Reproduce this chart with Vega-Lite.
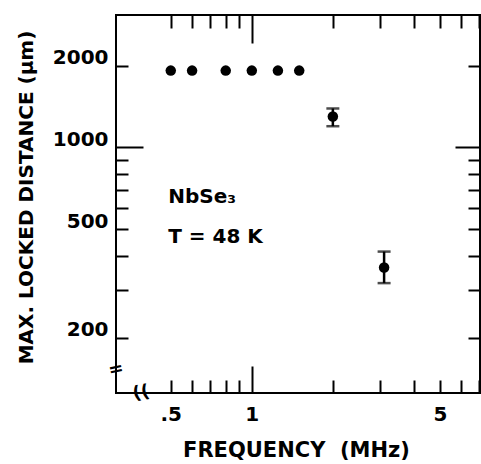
{
  "$schema": "https://vega.github.io/schema/vega-lite/v6.json",
  "autosize": "none",
  "width": 364,
  "height": 378,
  "padding": {"left": 116, "top": 15, "right": 1, "bottom": 71},
  "background": "white",
  "config": {
    "view": {"stroke": "black", "strokeWidth": 2},
    "axis": {"domain": false, "grid": false, "tickColor": "black", "tickWidth": 2, "labelColor": "black", "titleColor": "black", "labelFont": "DejaVu Sans", "titleFont": "DejaVu Sans", "labelFontWeight": "bold", "titleFontWeight": "bold"}
  },
  "datasets": {
    "pts": [
      {"f": 0.5, "d": 1917},
      {"f": 0.6, "d": 1917},
      {"f": 0.8, "d": 1917},
      {"f": 1.0, "d": 1917},
      {"f": 1.25, "d": 1917},
      {"f": 1.5, "d": 1917},
      {"f": 2.0, "d": 1300},
      {"f": 3.1, "d": 362}
    ],
    "err": [
      {"f": 2.0, "lo": 1197, "hi": 1391},
      {"f": 3.1, "lo": 317, "hi": 414}
    ],
    "notes": [
      {"f": 0.489, "d": 659, "label": "NbSe₃"},
      {"f": 0.489, "d": 470, "label": "T = 48 K"}
    ],
    "breaks": [
      {"f": 0.313, "d": 152, "label": "="},
      {"f": 0.388, "d": 125, "label": "(("}
    ]
  },
  "resolve": {"axis": {"x": "independent", "y": "independent"}},
  "layer": [
    {
      "data": {"name": "pts"},
      "mark": {"type": "circle", "color": "black", "opacity": 1, "size": 110},
      "encoding": {
        "x": {"field": "f", "type": "quantitative", "scale": {"type": "log", "domain": [0.313, 7.04], "nice": false},
          "axis": {"orient": "bottom", "values": [0.5, 1, 5], "ticks": false, "labelPadding": 11, "labelFontSize": 20, "labelExpr": "datum.value == 0.5 ? '.5' : format(datum.value, 'd')", "title": "FREQUENCY\u00a0\u00a0(MHz)", "titleFontSize": 21, "titleY": 63, "titleBaseline": "alphabetic", "titleX": 180}},
        "y": {"field": "d", "type": "quantitative", "scale": {"type": "log", "domain": [125, 3070], "nice": false},
          "axis": {"orient": "left", "values": [200, 500, 1000, 2000], "ticks": false, "labelPadding": 8, "labelFontSize": 20, "labelBaseline": "alphabetic", "labelOffset": -2, "format": "d", "title": "MAX. LOCKED DISTANCE (μm)", "titleFontSize": 20, "titleX": -90, "titleY": 182, "titleAngle": 270, "titleBaseline": "middle", "titleAlign": "center"}}
      }
    },
    {
      "data": {"name": "err"},
      "mark": {"type": "rule", "color": "black", "strokeWidth": 2.5},
      "encoding": {
        "x": {"field": "f", "type": "quantitative", "scale": {"type": "log", "domain": [0.313, 7.04], "nice": false},
          "axis": {"orient": "bottom", "values": [0.5, 0.6, 0.7, 0.8, 0.9, 2, 3, 4, 5, 6, 7], "tickSize": -13, "labels": false, "title": null}},
        "y": {"field": "lo", "type": "quantitative", "scale": {"type": "log", "domain": [125, 3070], "nice": false},
          "axis": {"orient": "left", "values": [200, 300, 400, 500, 600, 700, 800, 900, 2000], "tickSize": -12, "labels": false, "title": null}},
        "y2": {"field": "hi"}
      }
    },
    {
      "data": {"name": "err"},
      "mark": {"type": "tick", "color": "black", "orient": "horizontal", "size": 13, "thickness": 2.5},
      "encoding": {
        "x": {"field": "f", "type": "quantitative", "scale": {"type": "log", "domain": [0.313, 7.04], "nice": false},
          "axis": {"orient": "bottom", "values": [1], "tickSize": -27, "labels": false, "title": null}},
        "y": {"field": "lo", "type": "quantitative", "scale": {"type": "log", "domain": [125, 3070], "nice": false},
          "axis": {"orient": "left", "values": [1000], "tickSize": -27, "labels": false, "title": null}}
      }
    },
    {
      "data": {"name": "err"},
      "mark": {"type": "tick", "color": "black", "orient": "horizontal", "size": 13, "thickness": 2.5},
      "encoding": {
        "x": {"field": "f", "type": "quantitative", "scale": {"type": "log", "domain": [0.313, 7.04], "nice": false},
          "axis": {"orient": "top", "values": [0.5, 0.6, 0.7, 0.8, 0.9, 2, 3, 4, 5, 6, 7], "tickSize": -13, "labels": false, "title": null}},
        "y": {"field": "hi", "type": "quantitative", "scale": {"type": "log", "domain": [125, 3070], "nice": false},
          "axis": {"orient": "right", "values": [200, 300, 400, 500, 600, 700, 800, 900, 2000], "tickSize": -12, "labels": false, "title": null}}
      }
    },
    {
      "data": {"name": "pts"},
      "mark": {"type": "point", "opacity": 0},
      "encoding": {
        "x": {"field": "f", "type": "quantitative", "scale": {"type": "log", "domain": [0.313, 7.04], "nice": false},
          "axis": {"orient": "top", "values": [1], "tickSize": -28, "labels": false, "title": null}},
        "y": {"field": "d", "type": "quantitative", "scale": {"type": "log", "domain": [125, 3070], "nice": false},
          "axis": {"orient": "right", "values": [1000], "tickSize": -25, "labels": false, "title": null}}
      }
    },
    {
      "data": {"name": "notes"},
      "mark": {"type": "text", "align": "left", "baseline": "middle", "font": "DejaVu Sans", "fontWeight": "bold", "fontSize": 20, "color": "black"},
      "encoding": {
        "x": {"field": "f", "type": "quantitative", "scale": {"type": "log", "domain": [0.313, 7.04], "nice": false}, "axis": null},
        "y": {"field": "d", "type": "quantitative", "scale": {"type": "log", "domain": [125, 3070], "nice": false}, "axis": null},
        "text": {"field": "label"}
      }
    },
    {
      "data": {"name": "breaks"},
      "mark": {"type": "text", "align": "center", "baseline": "middle", "font": "DejaVu Sans", "fontWeight": "bold", "fontSize": 18, "color": "black", "angle": -12},
      "encoding": {
        "x": {"field": "f", "type": "quantitative", "scale": {"type": "log", "domain": [0.313, 7.04], "nice": false}, "axis": null},
        "y": {"field": "d", "type": "quantitative", "scale": {"type": "log", "domain": [125, 3070], "nice": false}, "axis": null},
        "text": {"field": "label"}
      }
    }
  ]
}
